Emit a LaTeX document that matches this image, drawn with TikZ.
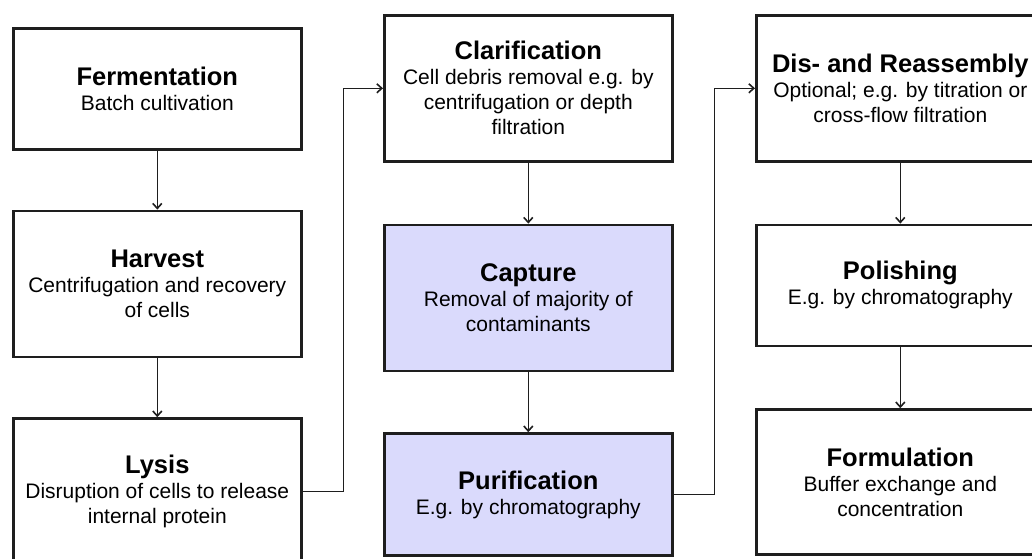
\documentclass[tikz,border=0pt]{standalone}
\usepackage{fontspec}
\setmainfont{Liberation Sans}
\usetikzlibrary{arrows.meta,positioning}
\definecolor{Ink}{HTML}{1E1E1E}
\definecolor{Lavender}{HTML}{DADAFC}
\newcommand{\steptitle}[1]{{\fontsize{25.5}{30}\selectfont\bfseries #1}}

\begin{document}
\begin{tikzpicture}[
  x=1pt,y=1pt,
  node distance=59pt,
  stepbox/.style={draw=Ink,line width=2.6pt,fill=white,minimum width=288pt,align=center,font=\fontsize{21}{25}\selectfont,inner sep=0pt},
  tallbox/.style={stepbox,minimum height=146pt},
  shortbox/.style={stepbox,minimum height=121pt},
  keybox/.style={fill=Lavender},
  arrow/.style={-{Straight Barb[length=5pt,width=9pt]},line width=1.6pt,draw=Ink}
]
\clip (0,0) rectangle (1032,-558);
\useasboundingbox (0,0) rectangle (1032,-558);
% upstream
\node[shortbox,anchor=north west] (ferm) at (12,-27) {\steptitle{Fermentation}\\Batch cultivation};
\node[tallbox,below=of ferm] (harv) {\steptitle{Harvest}\\Centrifugation and recovery\\of cells};
\node[tallbox,below=of harv] (lysis) {\steptitle{Lysis}\\Disruption of cells to release\\internal protein};
% downstream
\node[tallbox,anchor=north west] (clar) at (383,-14) {\steptitle{Clarification}\\Cell debris removal e.g. by\\centrifugation or depth\\filtration};
\node[tallbox,keybox,below=61pt of clar] (capt) {\steptitle{Capture}\\Removal of majority of\\contaminants};
\node[shortbox,keybox,below=60pt of capt,minimum height=122pt] (purif) {\steptitle{Purification}\\E.g. by chromatography};
% final steps
\node[tallbox,anchor=north west] (dis) at (755,-14) {\steptitle{Dis- and Reassembly}\\Optional; e.g. by titration or\\cross-flow filtration};
\node[shortbox,below=61pt of dis] (pol) {\steptitle{Polishing}\\E.g. by chromatography};
\node[tallbox,below=61pt of pol,minimum height=145pt] (form) {\steptitle{Formulation}\\Buffer exchange and\\concentration};
\draw[arrow] (ferm) -- (harv);
\draw[arrow] (harv) -- (lysis);
\draw[arrow] (lysis.east) -- ++(41pt,0) |- (clar.west);
\draw[arrow] (clar) -- (capt);
\draw[arrow] (capt) -- (purif);
\draw[arrow] (purif.east) -- ++(41pt,0) |- (dis.west);
\draw[arrow] (dis) -- (pol);
\draw[arrow] (pol) -- (form);
\end{tikzpicture}
\end{document}
